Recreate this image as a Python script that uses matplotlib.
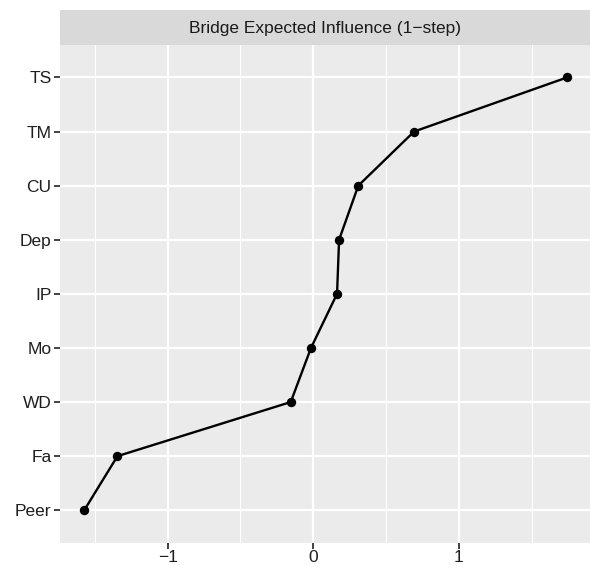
import matplotlib
matplotlib.use("Agg")
import matplotlib.pyplot as plt
from matplotlib.patches import Rectangle

categories = ["Peer", "Fa", "WD", "Mo", "IP", "Dep", "CU", "TM", "TS"]
values = [-1.573, -1.345, -0.155, -0.016, 0.163, 0.177, 0.309, 0.692, 1.742]
title = "Bridge Expected Influence (1\u2212step)"
xticks = [-1, 0, 1]
xticklabels = ["\u22121", "0", "1"]

plt.rcParams['font.family'] = ['Liberation Sans', 'DejaVu Sans']

W, H = 590, 565
fig = plt.figure(figsize=(W / 100, H / 100), dpi=100)
left, right = 60.5 / W, 1.0
bottom, top = 1 - 542.7 / H, 1 - 45 / H
ax = fig.add_axes([left, bottom, right - left, top - bottom])
ax.set_facecolor("#EBEBEB")

ypos = list(range(len(categories)))
ax.plot(values, ypos, color="black", lw=1.7, zorder=3)
ax.scatter(values, ypos, s=46, color="black", zorder=4, linewidths=0)

ax.set_xlim(-1.736, 1.900)
ax.set_ylim(-0.6, len(categories) - 1 + 0.6)
ax.set_yticks(ypos)
ax.set_yticklabels(categories)
ax.set_xticks(xticks)
ax.set_xticklabels(xticklabels)
ax.set_xticks([-1.5, -0.5, 0.5, 1.5], minor=True)

ax.grid(True, which="major", color="white", lw=1.6, zorder=1)
ax.grid(True, which="minor", axis="x", color="white", lw=0.8, zorder=1)
ax.set_axisbelow(True)
for s in ax.spines.values():
    s.set_visible(False)
ax.tick_params(axis="both", which="major", length=4, width=1.3, color="#333333",
               labelsize=12.5, labelcolor="#1E1E1E", pad=2.5)
ax.tick_params(axis="x", which="major", pad=1.0)
ax.tick_params(axis="both", which="minor", length=0)

# facet strip
strip_h = 35 / H
sax = fig.add_axes([left, top, right - left, strip_h])
sax.set_xlim(0, 1)
sax.set_ylim(0, 1)
sax.add_patch(Rectangle((0, 0), 1, 1, facecolor="#D9D9D9", edgecolor="none"))
sax.axis("off")
sax.text(0.5, 0.47, title, ha="center", va="center", fontsize=12.5, color="#1A1A1A")

fig.savefig("out.png", dpi=100)
